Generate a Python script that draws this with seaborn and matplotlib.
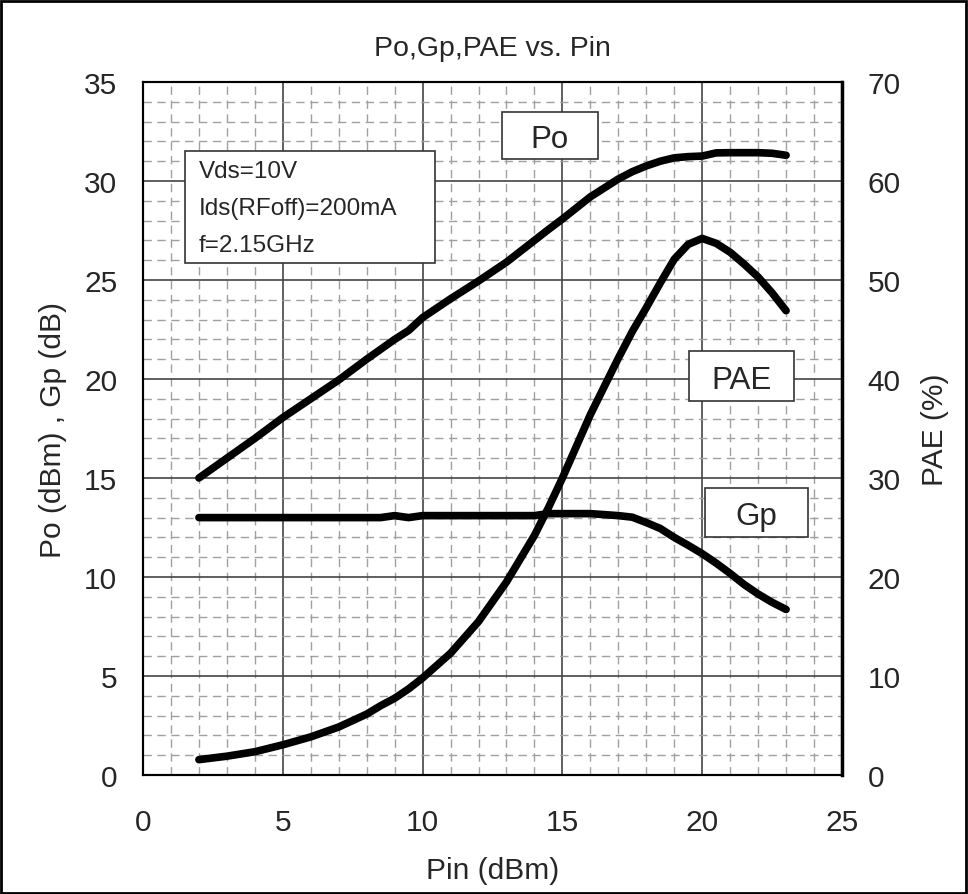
import matplotlib
matplotlib.use("Agg")
import matplotlib.pyplot as plt
import seaborn as sns
import pandas as pd
from matplotlib.ticker import MultipleLocator
from matplotlib.patches import Rectangle

# Measured power sweep
pin = [2, 3, 4, 5, 6, 7, 8, 8.5, 9, 9.5, 10, 11, 12, 13, 14, 14.5, 15, 16,
       17, 17.5, 18, 18.5, 19, 19.5, 20, 20.5, 21, 21.5, 22, 22.5, 23]
po = [15.0, 16.0, 17.0, 18.05, 19.0, 19.95, 21.0, 21.5, 22.0, 22.45, 23.1,
      24.05, 24.95, 25.9, 27.0, 27.55, 28.08, 29.2, 30.1, 30.47, 30.76, 31.0,
      31.17, 31.23, 31.26, 31.42, 31.43, 31.43, 31.43, 31.4, 31.3]
gp = [13.0, 13.0, 13.0, 13.0, 13.0, 13.0, 13.0, 13.0, 13.1, 13.0, 13.1,
      13.1, 13.1, 13.1, 13.1, 13.2, 13.2, 13.2, 13.1, 13.02, 12.75, 12.45,
      12.0, 11.6, 11.18, 10.7, 10.18, 9.62, 9.14, 8.72, 8.36]
pae = [1.55, 1.9, 2.35, 3.05, 3.85, 4.85, 6.15, 7.0, 7.75, 8.7, 9.8, 12.3,
       15.5, 19.5, 24.2, 27.0, 30.0, 36.4, 42.1, 44.8, 47.2, 49.7, 52.1, 53.6,
       54.2, 53.7, 52.8, 51.6, 50.3, 48.7, 46.9]

x_ticks = [0, 5, 10, 15, 20, 25]
y_ticks = [0, 5, 10, 15, 20, 25, 30, 35]
y2_ticks = [0, 10, 20, 30, 40, 50, 60, 70]

title = "Po,Gp,PAE vs. Pin"
cond_lines = ["Vds=10V", "Ids(RFoff)=200mA", "f=2.15GHz"]

df = pd.DataFrame({"Pin": pin, "Po": po, "Gp": gp, "PAE": pae})

sns.set_theme(style="white")
plt.rcParams["font.family"] = ["Liberation Sans", "DejaVu Sans"]

W, H = 968, 895
fig = plt.figure(figsize=(W / 100, H / 100), dpi=100)
ax = fig.add_axes([143 / W, 1 - 776 / H, (842 - 143) / W, (776 - 83) / H])
ax2 = ax.twinx()

# Grid: solid major every 5, dashed minor every 1
ax.set_xlim(0, 25)
ax.set_ylim(0, 35)
ax.xaxis.set_major_locator(MultipleLocator(5))
ax.yaxis.set_major_locator(MultipleLocator(5))
ax.xaxis.set_minor_locator(MultipleLocator(1))
ax.yaxis.set_minor_locator(MultipleLocator(1))
ax.grid(which="minor", color="#a0a0a0", lw=1.0, ls=(0, (6, 4)), zorder=0)
ax.grid(which="major", color="#444444", lw=1.2, ls="-", zorder=0)
ax.set_axisbelow(True)

line_kw = dict(color="black", lw=5.5, solid_capstyle="round",
               solid_joinstyle="round")
sns.lineplot(data=df, x="Pin", y="Po", ax=ax, **line_kw)
sns.lineplot(data=df, x="Pin", y="Gp", ax=ax, **line_kw)
sns.lineplot(data=df, x="Pin", y="PAE", ax=ax2, **line_kw)

ax2.set_ylim(0, 70)
ax2.grid(False)

ax.set_xticks(x_ticks)
ax.set_yticks(y_ticks)
ax2.set_yticks(y2_ticks)
ax.tick_params(axis="both", which="both", length=0, labelsize=21.5)
ax.tick_params(axis="y", pad=18.5)
ax.tick_params(axis="x", pad=24)
ax2.tick_params(axis="y", length=0, labelsize=21.5, pad=18.5)

ax.set_xlabel("Pin (dBm)", fontsize=21.5)
ax.set_ylabel("Po (dBm) , Gp (dB)", fontsize=21.5)
ax2.set_ylabel("PAE (%)", fontsize=21.5)
ax.xaxis.set_label_coords(0.5, (776 - 857) / 693)
ax.yaxis.set_label_coords((67 - 143) / 699, 0.5)
ax2.yaxis.set_label_coords((921 - 143) / 699, 0.5)

for a in (ax, ax2):
    for s in a.spines.values():
        s.set_color("black")
        s.set_linewidth(1.5)
ax2.spines["right"].set_linewidth(2.5)
ax.spines["top"].set_color("#333333")

fig.text(492 / W, 1 - 56 / H, title, ha="center", va="baseline", fontsize=20.5)

# Condition box
ax.add_patch(Rectangle((1.50, 25.86), 8.94, 5.66, facecolor="white",
                       edgecolor="#333333", lw=1.2, zorder=3))
for txt, yb in zip(cond_lines, [30.2, 28.33, 26.46]):
    ax.text(2.0, yb, txt, ha="left", va="baseline", fontsize=17.5, zorder=4)

# Curve labels
for (x0, y0, w, h, lab) in [(12.84, 31.11, 3.43, 2.37, "Po"),
                            (19.53, 18.89, 3.75, 2.52, "PAE"),
                            (20.10, 12.02, 3.68, 2.47, "Gp")]:
    ax.add_patch(Rectangle((x0, y0), w, h, facecolor="white",
                           edgecolor="#333333", lw=1.2, zorder=3))
    ax.text(x0 + w / 2, y0 + h / 2, lab, ha="center", va="center_baseline",
            fontsize=22.5, zorder=4)

# Figure border
fig.add_artist(Rectangle((0.001, 0.001), 0.997, 0.997, transform=fig.transFigure,
                         fill=False, edgecolor="black", lw=2))

fig.savefig("out.png", dpi=100)
